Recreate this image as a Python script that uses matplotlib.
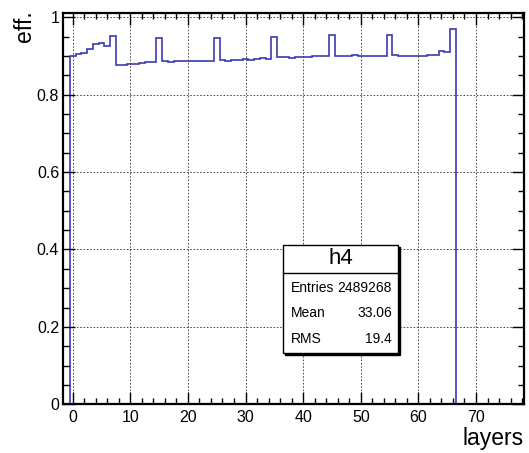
import matplotlib as mpl
mpl.use('Agg')
import matplotlib.pyplot as plt
from matplotlib.patches import Rectangle
from matplotlib.ticker import MultipleLocator, FuncFormatter
import numpy as np

plt.rcParams['font.family'] = ['Liberation Sans', 'DejaVu Sans']

# efficiency per layer (layers 0..66)
layers = np.arange(0, 67)
eff = [0.901, 0.905, 0.907, 0.918, 0.931, 0.933, 0.925, 0.952, 0.877, 0.877,
       0.880, 0.880, 0.882, 0.884, 0.884, 0.946, 0.886, 0.884, 0.887, 0.888,
       0.886, 0.886, 0.888, 0.888, 0.888, 0.946, 0.890, 0.888, 0.890, 0.890,
       0.892, 0.889, 0.893, 0.894, 0.892, 0.950, 0.897, 0.897, 0.894, 0.897,
       0.897, 0.897, 0.899, 0.899, 0.901, 0.953, 0.899, 0.901, 0.899, 0.903,
       0.900, 0.900, 0.900, 0.899, 0.899, 0.953, 0.903, 0.900, 0.900, 0.900,
       0.900, 0.899, 0.903, 0.903, 0.912, 0.910, 0.969]

stat_names = ['Entries', 'Mean', 'RMS']
stat_values = ['2489268', '33.06', '19.4']
hist_name = 'h4'

W, H = 529, 453
fig = plt.figure(figsize=(W / 100, H / 100), dpi=100)
ax = fig.add_axes([63.3 / W, 1 - 404.3 / H, (523.8 - 63.3) / W, (404.3 - 13) / H])

# pad with empty bins so the line runs along zero to the frame
vals = np.concatenate([[0, 0], eff, np.zeros(13)])
edges = np.arange(-2.5, 80.5, 1.0)
ax.stairs(vals, edges, color='#3a3ab4', lw=1.2, baseline=None)

ax.set_xlim(-1.63, 78.3)
ax.set_ylim(0, 1.011)

ax.xaxis.set_major_locator(MultipleLocator(10))
ax.xaxis.set_minor_locator(MultipleLocator(2))
ax.yaxis.set_major_locator(MultipleLocator(0.2))
ax.yaxis.set_minor_locator(MultipleLocator(0.05))
ax.yaxis.set_major_formatter(FuncFormatter(lambda v, p: '%g' % round(v, 2)))
ax.tick_params(which='both', direction='in', top=True, right=True, width=1.0, labelsize=11.5)
ax.tick_params(which='major', length=8.5)
ax.tick_params(which='minor', length=4.5)
ax.tick_params(axis='x', pad=4)
ax.tick_params(axis='y', pad=3)
for s in ax.spines.values():
    s.set_linewidth(1.6)

ax.grid(True, which='major', color='#333333', lw=0.6, linestyle=(0, (2, 2)))

fig.text(24 / W, 1 - 10 / H, 'eff.', rotation=90, ha='center', va='top', fontsize=16.5)
fig.text(524 / W, 3 / H, 'layers', ha='right', va='bottom', fontsize=16.5)

# stats box
bx0, bx1, by0, by1 = 283.3, 398.3, 245, 353.3
def fr(x, y):
    return x / W, 1 - y / H
fig.patches.append(Rectangle(fr(bx0 + 1.5, by1 + 1.5), (bx1 - bx0) / W, (by1 - by0) / H,
                             transform=fig.transFigure, facecolor='black', edgecolor='black', lw=1))
fig.patches.append(Rectangle(fr(bx0, by1), (bx1 - bx0) / W, (by1 - by0) / H,
                             transform=fig.transFigure, facecolor='white', edgecolor='black', lw=1))
fig.add_artist(plt.Line2D([bx0 / W, bx1 / W], [1 - 273.3 / H, 1 - 273.3 / H],
                          transform=fig.transFigure, color='black', lw=1))
fig.text(*fr((bx0 + bx1) / 2, 259), hist_name, ha='center', va='center', fontsize=16)
for i, (n, v) in enumerate(zip(stat_names, stat_values)):
    yy = [288.3, 313.3, 339][i]
    fig.text(*fr(290.5, yy), n, ha='left', va='center', fontsize=10)
    fig.text(*fr(392, yy), v, ha='right', va='center', fontsize=10)

fig.savefig('out.png', dpi=100)
